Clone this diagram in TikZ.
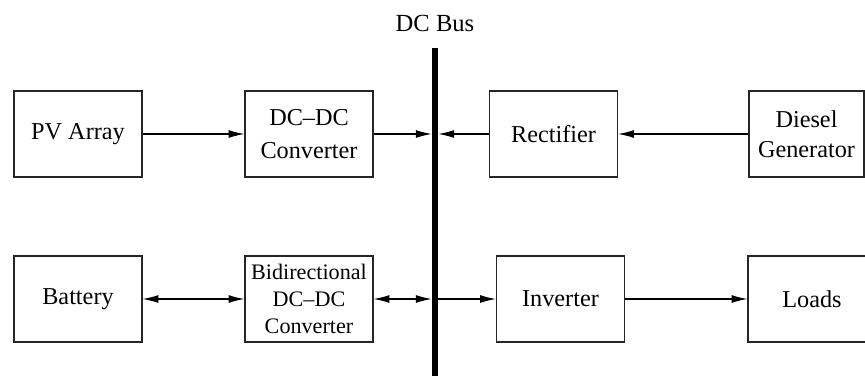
\documentclass[tikz,border=0pt]{standalone}
\usepackage{fontspec}
\setmainfont{Liberation Serif}
\usetikzlibrary{arrows.meta,positioning}
\tikzset{
  blk/.style={draw=black!85,line width=0.7pt,minimum width=2.56cm,minimum height=1.72cm,align=center,font=\fontsize{13.8}{19}\selectfont},
  flow/.style={-{Latex[length=9pt,width=4.5pt]},line width=0.6pt},
  both/.style={{Latex[length=9pt,width=4.5pt]}-{Latex[length=9pt,width=4.5pt]},line width=0.6pt}
}

\begin{document}
\begin{tikzpicture}
  \useasboundingbox (0,0) rectangle (17.3,7.52);
  % dc bus
  \node[fill=black,inner sep=0pt,minimum width=3.4pt,minimum height=6.56cm] (bus) at (8.70,3.28) {};
  \node[font=\fontsize{14}{16}\selectfont] (buslbl) at (8.70,7.06) {DC Bus};
  % top row
  \node[blk] (pv) at (1.56,4.84) {PV Array};
  \node[blk] (dcdc) at (6.18,4.84) {DC--DC\\Converter};
  \node[blk] (rect) at (11.07,4.84) {Rectifier};
  \node[blk,minimum width=2.30cm,font=\fontsize{13.8}{17}\selectfont] (dg) at (16.13,4.84) {Diesel\\Generator};
  % bottom row
  \node[blk] (bat) at (1.56,1.54) {Battery};
  \node[blk,font=\fontsize{12.6}{15.3}\selectfont] (bidc) at (6.18,1.54) {Bidirectional\\DC--DC\\Converter};
  \node[blk] (inv) at (11.21,1.54) {Inverter};
  \node[blk] (load) at (16.24,1.54) {Loads};
  % connections
  \draw[flow] (pv) -- (dcdc);
  \draw[flow] (dcdc) -- (dcdc -| bus.west);
  \draw[flow] (rect) -- (rect -| bus.east);
  \draw[flow] (dg) -- (rect);
  \draw[both] (bat) -- (bidc);
  \draw[both] (bidc) -- (bidc -| bus.west);
  \draw[flow] (inv -| bus.east) -- (inv);
  \draw[flow] (inv) -- (load);
\end{tikzpicture}
\end{document}
